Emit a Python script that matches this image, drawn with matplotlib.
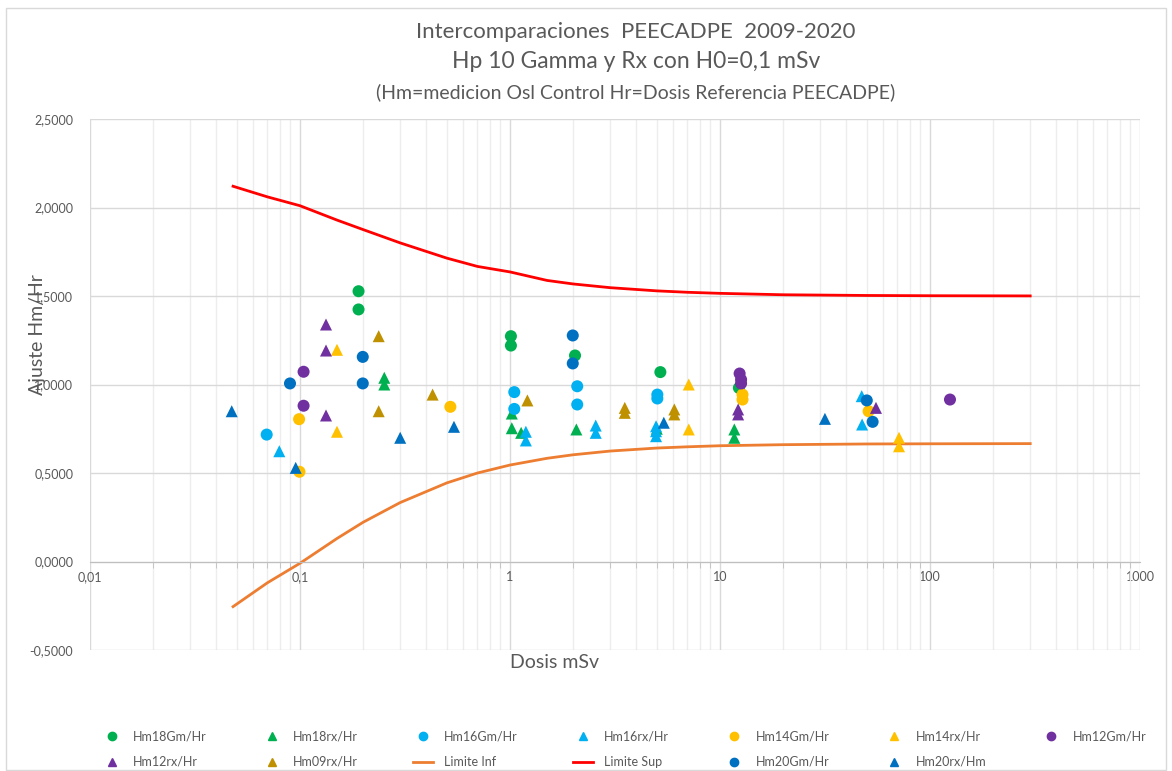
import matplotlib
matplotlib.use("Agg")
import matplotlib.pyplot as plt
from matplotlib.lines import Line2D
from matplotlib.patches import Rectangle
from matplotlib.ticker import FixedLocator, LogLocator, FuncFormatter, NullFormatter

plt.rcParams['font.family'] = ['Lato', 'DejaVu Sans']

# ---------------- data ----------------
hm18gm_x = [0.19, 0.19, 1.01, 1.01, 2.04, 5.2, 12.3]
hm18gm_y = [1.527, 1.424, 1.273, 1.22, 1.164, 1.07, 0.981]

hm18rx_x = [0.252, 0.252, 1.02, 1.02, 1.13, 2.07, 5.0, 11.7, 11.7]
hm18rx_y = [1.038, 1.0, 0.836, 0.753, 0.727, 0.746, 0.75, 0.746, 0.699]

hm16gm_x = [0.0694, 1.048, 1.048, 2.09, 2.09, 5.03, 5.03]
hm16gm_y = [0.717, 0.957, 0.862, 0.99, 0.887, 0.943, 0.921]

hm16rx_x = [0.0797, 1.19, 1.19, 2.56, 2.56, 4.96, 4.96, 4.96, 47.3, 47.5]
hm16rx_y = [0.623, 0.733, 0.684, 0.768, 0.727, 0.764, 0.736, 0.708, 0.934, 0.774]

hm14gm_x = [0.0994, 0.099, 0.52, 12.8, 12.8, 51.0]
hm14gm_y = [0.507, 0.804, 0.874, 0.943, 0.915, 0.849]

hm14rx_x = [0.150, 0.150, 7.1, 7.1, 71.2, 71.2]
hm14rx_y = [1.196, 0.733, 1.0, 0.746, 0.699, 0.651]

hm12gm_x = [0.104, 0.104, 12.4, 12.6, 12.6, 124.5]
hm12gm_y = [1.072, 0.880, 1.062, 1.028, 1.006, 0.915]

hm12rx_x = [0.133, 0.133, 0.133, 12.2, 12.2, 55.3]
hm12rx_y = [1.339, 1.192, 0.825, 0.859, 0.831, 0.868]

hm09rx_x = [0.237, 0.237, 0.428, 1.21, 3.52, 3.52, 6.06, 6.06]
hm09rx_y = [1.273, 0.849, 0.943, 0.910, 0.868, 0.840, 0.859, 0.831]

lim_x = [0.048, 0.07, 0.1, 0.15, 0.2, 0.3, 0.5, 0.7, 1, 1.5, 2, 3, 5, 7, 10, 20, 50, 100, 300]
lim_inf = [-0.255, -0.12, -0.01, 0.13, 0.222, 0.333, 0.444, 0.50, 0.545, 0.583, 0.603,
           0.624, 0.641, 0.648, 0.654, 0.660, 0.664, 0.665, 0.666]
lim_sup = [2.12, 2.06, 2.01, 1.929, 1.875, 1.80, 1.714, 1.667, 1.636, 1.588, 1.568,
           1.547, 1.529, 1.521, 1.515, 1.507, 1.503, 1.5015, 1.5005]

hm20gm_x = [0.0896, 0.199, 0.199, 1.99, 1.99, 50.0, 53.3]
hm20gm_y = [1.006, 1.156, 1.006, 1.277, 1.119, 0.910, 0.789]

hm20rx_x = [0.0473, 0.0954, 0.30, 0.541, 5.4, 31.6]
hm20rx_y = [0.849, 0.529, 0.699, 0.761, 0.784, 0.806]

x_ticks = [0.01, 0.1, 1, 10, 100, 1000]
x_ticklabels = ["0,01", "0,1", "1", "10", "100", "1000"]
y_ticks = [-0.5, 0.0, 0.5, 1.0, 1.5, 2.0, 2.5]

# ---------------- figure ----------------
W, H = 1172, 771
fig = plt.figure(figsize=(W / 100, H / 100), dpi=100)
fig.patches.append(Rectangle((6 / W, 1 / H), (W - 12) / W, (H - 9) / H,
                             transform=fig.transFigure, fill=False,
                             edgecolor='#D9D9D9', linewidth=1))

ax = fig.add_axes([90 / W, 1 - 650 / H, 1050 / W, 531 / H])
ax.set_xscale('log')
ax.set_xlim(0.01, 1000)
ax.set_ylim(-0.5, 2.5)

TXT = '#595959'
ms = 75
sc = [
    (hm18gm_x, hm18gm_y, 'o', '#00B050', 'Hm18Gm/Hr'),
    (hm18rx_x, hm18rx_y, '^', '#00B050', 'Hm18rx/Hr'),
    (hm16gm_x, hm16gm_y, 'o', '#00B0F0', 'Hm16Gm/Hr'),
    (hm16rx_x, hm16rx_y, '^', '#00B0F0', 'Hm16rx/Hr'),
    (hm14gm_x, hm14gm_y, 'o', '#FFC000', 'Hm14Gm/Hr'),
    (hm14rx_x, hm14rx_y, '^', '#FFC000', 'Hm14rx/Hr'),
    (hm12gm_x, hm12gm_y, 'o', '#7030A0', 'Hm12Gm/Hr'),
    (hm12rx_x, hm12rx_y, '^', '#7030A0', 'Hm12rx/Hr'),
    (hm09rx_x, hm09rx_y, '^', '#BF9000', 'Hm09rx/Hr'),
]
handles = []
for xs, ys, m, c, lab in sc:
    ax.scatter(xs, ys, marker=m, s=ms, color=c, edgecolors='none', zorder=3)
    handles.append(Line2D([], [], linestyle='none', marker=m, color=c, markersize=6, label=lab))

ax.plot(lim_x, lim_inf, color='#ED7D31', linewidth=2.0, zorder=2)
handles.append(Line2D([], [], color='#ED7D31', linewidth=2.0, label='Limite Inf'))
ax.plot(lim_x, lim_sup, color='#FF0000', linewidth=2.0, zorder=2)
handles.append(Line2D([], [], color='#FF0000', linewidth=2.0, label='Limite Sup'))

ax.scatter(hm20gm_x, hm20gm_y, marker='o', s=ms, color='#0070C0', edgecolors='none', zorder=3)
handles.append(Line2D([], [], linestyle='none', marker='o', color='#0070C0', markersize=6, label='Hm20Gm/Hr'))
ax.scatter(hm20rx_x, hm20rx_y, marker='^', s=ms, color='#0070C0', edgecolors='none', zorder=3)
handles.append(Line2D([], [], linestyle='none', marker='^', color='#0070C0', markersize=6, label='Hm20rx/Hm'))

# grid
ax.grid(True, which='major', axis='both', color='#D9D9D9', linewidth=1.0, zorder=0)
ax.grid(True, which='minor', axis='x', color='#EDEDED', linewidth=1.0, zorder=0)
ax.set_axisbelow(True)
for s in ['top', 'right', 'left']:
    ax.spines[s].set_visible(False)
ax.spines['bottom'].set_position(('data', 0))
ax.spines['bottom'].set_color('#BFBFBF')

ax.xaxis.set_major_locator(FixedLocator(x_ticks))
ax.set_xticklabels(x_ticklabels)
ax.xaxis.set_minor_locator(LogLocator(base=10, subs=range(2, 10)))
ax.xaxis.set_minor_formatter(NullFormatter())
ax.tick_params(axis='x', which='major', length=0, labelsize=9, labelcolor=TXT, pad=7)
ax.tick_params(axis='x', which='minor', length=4, color='#BFBFBF', direction='out')

ax.set_yticks(y_ticks)
ax.yaxis.set_major_formatter(FuncFormatter(lambda v, p: f"{v:.4f}".replace('.', ',')))
ax.tick_params(axis='y', length=0, labelsize=9, labelcolor=TXT, pad=12)

fig.text(555 / W, 1 - 663 / H, 'Dosis mSv', ha='center', va='center', fontsize=14, color=TXT)
fig.text(37 / W, 1 - 335 / H, 'Ajuste Hm/Hr', ha='center', va='center', rotation=90,
         fontsize=14, color=TXT)

fig.text(636 / W, 1 - 32 / H, 'Intercomparaciones  PEECADPE  2009-2020', ha='center', va='center',
         fontsize=16, color=TXT)
fig.text(636 / W, 1 - 62 / H, 'Hp 10 Gamma y Rx con H0=0,1 mSv', ha='center', va='center',
         fontsize=16.5, color=TXT)
fig.text(636 / W, 1 - 92 / H, '(Hm=medicion Osl Control Hr=Dosis Referencia PEECADPE)',
         ha='center', va='center', fontsize=14, color=TXT)

# legend: row-major order for 7 columns
ncol = 7
order = []
for i in range(ncol):
    order.append(i)
    if i + ncol < len(handles):
        order.append(i + ncol)
oh = [handles[i] for i in order]
leg = fig.legend(handles=oh, labels=[h.get_label() for h in oh], ncol=ncol,
                 loc='center', bbox_to_anchor=(624 / W, 1 - 749 / H), frameon=False,
                 fontsize=9, handlelength=1.6, handletextpad=0.9, columnspacing=4.4,
                 labelspacing=1.1)
for t in leg.get_texts():
    t.set_color(TXT)

fig.savefig('out.png', dpi=100)
